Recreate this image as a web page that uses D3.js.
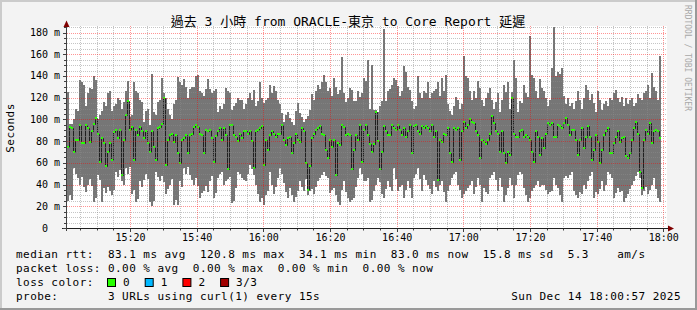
<!DOCTYPE html>
<html><head><meta charset="utf-8">
<script src="https://cdn.jsdelivr.net/npm/d3@7"></script>
<style>body{margin:0;background:#f3f3f3;} svg{display:block;}</style>
</head><body><svg id="c" width="697" height="310"></svg>
<script>
const titleText = "過去 3 小時 from ORACLE-東京 to Core Report 延遲";
const startTime = "2025-12-14T15:00:57";
const endTime = "2025-12-14T18:00:57";
const stepSeconds = 36;

const smokeMin = [25,30,26,55,50,46,40,47,38,33,40,45,39,24,28,49,44,24,37,32,38,34,30,35,52,47,53,43,40,55,50,56,31,35,24,27,43,38,44,50,45,24,20,25,52,47,43,48,42,31,36,40,45,21,26,21,43,38,55,50,56,49,44,40,46,39,28,32,34,39,33,43,48,28,32,
46,50,52,40,43,45,47,23,25,37,52,50,46,44,43,50,58,54,49,40,31,24,28,21,30,34,52,40,31,38,46,55,50,41,33,28,37,30,24,29,34,43,38,34,45,30,34,36,31,38,43,46,49,52,48,46,32,35,37,30,24,21,35,43,33,28,24,26,28,38,46,55,50,43,43,
46,24,26,34,40,46,42,31,28,36,43,38,34,55,45,34,38,40,28,35,43,37,28,46,50,55,45,34,49,44,40,36,31,43,38,34,40,43,33,24,34,40,46,50,52,40,35,28,31,34,37,40,43,31,38,46,40,24,37,33,31,46,49,52,44,34,46,38,24,30,37,46,40,28,40,
49,52,50,37,30,24,28,34,37,40,43,38,40,40,35,31,33,34,46,40,37,30,24,46,48,46,49,52,34,30,28,33,31,40,36,43,48,52,28,33,31,36,43,34,40,52,50,46,28,32,37,33,34,24,28,31,36,40,43,48,52,46,30,34,38,31,35,40,46,36,28,24];
const smokeMax = [125,96,96,100,110,108,136,134,132,112,124,129,128,140,136,100,104,108,116,112,124,126,108,112,114,120,118,110,116,126,135,102,104,134,126,124,118,116,98,108,110,95,142,107,104,116,118,138,124,120,110,104,100,114,118,139,134,132,137,130,120,128,130,130,140,141,126,124,122,128,137,128,124,126,128,
107,112,110,114,129,126,124,109,112,115,120,118,118,110,114,120,124,118,127,112,117,134,120,115,118,120,132,124,131,126,118,114,106,98,104,107,101,98,95,108,115,106,102,98,100,103,109,123,118,126,132,128,134,141,134,126,129,122,138,130,123,127,157,124,116,120,129,127,117,117,126,121,124,138,135,
155,110,150,109,109,107,112,117,183,117,126,128,132,138,136,131,122,126,149,144,130,127,117,110,112,140,124,120,126,124,134,120,124,126,128,134,122,138,126,141,114,108,104,112,121,118,110,114,158,140,138,126,118,126,120,135,129,118,112,120,124,129,118,110,116,124,107,118,132,125,134,110,125,155,138,
107,117,115,132,124,121,177,141,138,126,120,137,129,126,120,112,118,147,185,140,144,142,147,122,114,120,112,115,110,117,126,118,110,120,132,127,118,123,115,107,126,118,109,114,117,112,120,118,124,127,120,116,121,112,120,114,118,120,112,115,123,120,118,124,126,132,120,143,130,126,118,158];
const medianRtt = [75,93,92,70,81,81,95,78,78,95,92,79,89,96,101,87,61,83,78,57,70,78,63,88,90,83,90,49,81,104,117,90,93,63,90,86,93,89,83,89,78,70,89,75,63,92,93,96,120,58,81,86,87,79,86,69,60,81,83,86,69,86,87,93,95,93,87,86,69,90,89,90,83,61,85,
89,92,81,92,86,54,95,95,86,84,80,87,83,89,89,87,89,80,55,89,90,92,94,58,81,72,86,89,87,84,87,87,95,81,76,83,84,69,78,87,81,79,92,89,60,35,57,83,87,90,92,94,87,86,72,64,81,75,81,49,78,76,95,93,86,87,86,54,72,86,81,95,61,90,95,
86,77,70,77,107,80,54,70,94,89,86,86,95,92,90,95,90,86,92,84,89,95,69,94,95,89,87,94,92,94,92,89,95,84,89,44,81,79,87,86,92,69,61,92,90,92,63,89,98,92,95,100,98,97,89,86,64,81,79,77,81,87,103,97,89,87,70,89,69,60,70,67,120,87,84,
84,89,90,84,86,84,81,70,61,89,84,67,83,74,87,97,95,97,84,84,95,94,92,97,101,95,86,90,90,81,67,81,92,74,84,94,84,63,72,86,79,60,72,86,89,92,69,69,78,84,89,79,83,84,66,64,69,81,92,98,87,52,37,81,90,87,97,78,89,90,89,83];

const yTickValues = [0,20,40,60,80,100,120,140,160,180];
const yTickLabels = ["0  ","20 m","40 m","60 m","80 m","100 m","120 m","140 m","160 m","180 m"];
const xTickTimes = ["15:20","15:40","16:00","16:20","16:40","17:00","17:20","17:40","18:00"];
const legendLine1 = "median rtt:  83.1 ms avg  120.8 ms max  34.1 ms min  83.0 ms now  15.8 ms sd  5.3    am/s";
const legendLine2 = "packet loss: 0.00 % avg  0.00 % max  0.00 % min  0.00 % now";
const legendLine3 = "loss color:";
const lossLabels = ["0","1","2","3/3"];
const lossColors = ["#26ff00","#00b8ff","#ff0000","#a10000"];
const probeLine = "probe:       3 URLs using curl(1) every 15s";
const dateText = "Sun Dec 14 18:00:57 2025";
const watermark = "RRDTOOL / TOBI OETIKER";

const svg = d3.select("#c");
const W = 697, H = 310;
const mono = "'DejaVu Sans Mono','Noto Sans CJK TC',monospace";
const nb = s => s.replace(/ /g, "\u00A0");
const parse = d3.timeParse("%Y-%m-%dT%H:%M:%S");
const t0 = parse(startTime), t1 = parse(endTime);
const x = d3.scaleTime().domain([t0, t1]).range([67, 667]);
const y = d3.scaleLinear().domain([0, 186]).range([228, 26]);
const px = v => Math.floor(v + 1e-6);
const py = v => Math.round(v);

svg.append("rect").attr("width", W).attr("height", H).attr("fill", "#f3f3f3");
svg.append("rect").attr("x",0).attr("y",0).attr("width",W).attr("height",2).attr("fill","#cbcbcb");
svg.append("rect").attr("x",0).attr("y",0).attr("width",2).attr("height",H).attr("fill","#cbcbcb");
svg.append("rect").attr("x",0).attr("y",H-2).attr("width",W).attr("height",2).attr("fill","#999");
svg.append("rect").attr("x",W-2).attr("y",0).attr("width",2).attr("height",H).attr("fill","#999");

svg.append("rect").attr("x", x.range()[0]).attr("y", y.range()[1])
  .attr("width", x.range()[1]-x.range()[0]).attr("height", y.range()[0]-y.range()[1]).attr("fill", "#fff");

const data = medianRtt.map((m, i) => ({
  t: new Date(t0.getTime() + i*stepSeconds*1000),
  t2: new Date(t0.getTime() + (i+1)*stepSeconds*1000),
  lo: smokeMin[i], hi: smokeMax[i], med: m
}));

svg.append("g").selectAll("rect").data(data).join("rect")
  .attr("x", d => x(d.t)).attr("width", d => x(d.t2)-x(d.t))
  .attr("y", d => y(d.hi)).attr("height", d => y(d.lo)-y(d.hi))
  .attr("fill", "#767676").attr("shape-rendering","crispEdges");

const pts = data.map(d => [x(d.t)+0.5, py(y(d.med))+0.5]);
pts.push([x(data[data.length-1].t2), py(y(data[data.length-1].med))+0.5]);
svg.append("path").attr("d", d3.line().curve(d3.curveStepAfter)(pts))
  .attr("fill","none").attr("stroke","#202020").attr("stroke-width",1);

svg.append("g").selectAll("rect").data(data).join("rect")
  .attr("x", d => x(d.t)).attr("width", d => x(d.t2)-x(d.t))
  .attr("y", d => py(y(d.med))-1).attr("height", 2)
  .attr("fill", lossColors[0]).attr("shape-rendering","crispEdges");

// grid dots as 1x1 rects (single path of filled squares)
const minorY = d3.range(5, 186, 5).filter(v => v % 20 !== 0);
const majorY = d3.range(20, 186, 20);
const minorX = d3.timeMinute.every(5).range(t0, t1).filter(d => d.getMinutes() % 20 !== 0);
const majorX = d3.timeMinute.every(20).range(t0, t1);
const gridMinor = "rgba(140,140,140,0.5)", gridMajor = "rgba(255,0,0,0.42)";
const [cx0, cx1] = x.range(), cyTop = y.range()[1], cyBot = y.range()[0];
function hDots(vals) {
  let s = "";
  vals.forEach(v => { const yy = py(y(v)); for (let k = cx0; k < cx1; k += 2) s += `M${k},${yy}h1v1h-1Z`; });
  return s;
}
function vDots(vals) {
  let s = "";
  vals.forEach(v => { const xx = px(x(v)); for (let k = cyTop; k < cyBot; k += 2) s += `M${xx},${k}h1v1h-1Z`; });
  return s;
}
const gg = svg.append("g").attr("shape-rendering","crispEdges");
gg.append("path").attr("d", hDots(minorY)).attr("fill", gridMinor);
gg.append("path").attr("d", vDots(minorX)).attr("fill", gridMinor);
gg.append("path").attr("d", hDots(majorY)).attr("fill", gridMajor);
gg.append("path").attr("d", vDots(majorX)).attr("fill", gridMajor);

const ax = svg.append("g");
ax.append("line").attr("x1",66.5).attr("x2",66.5).attr("y1",231).attr("y2",24).attr("stroke","#404040");
ax.append("line").attr("x1",62).attr("x2",669).attr("y1",228.5).attr("y2",228.5).attr("stroke","#202020");
ax.selectAll("line.yt").data(yTickValues.concat(minorY)).join("line").attr("class","yt")
  .attr("x1", d => d%20===0 ? 63 : 64).attr("x2", 67).attr("y1", d=>py(y(d))+0.5).attr("y2", d=>py(y(d))+0.5)
  .attr("stroke","#404040");
ax.selectAll("line.xt").data(majorX.concat(minorX)).join("line").attr("class","xt")
  .attr("x1", d=>px(x(d))+0.5).attr("x2", d=>px(x(d))+0.5)
  .attr("y1", 229).attr("y2", d => d.getMinutes()%20===0 ? 232 : 230.5).attr("stroke","#404040");
svg.append("path").attr("d","M63.5,27 L66.5,20.5 L69.5,27 Z").attr("fill","#800000");
svg.append("path").attr("d","M668,225.5 L674,228.5 L668,231.5 Z").attr("fill","#800000");

svg.append("g").selectAll("text").data(yTickValues).join("text")
  .attr("x", (d,i) => 60 - yTickLabels[i].length*6.02).attr("y", d => y(d)+3.5)
  .attr("font-family", mono).attr("font-size", 10).attr("fill","#000")
  .text((d,i) => nb(yTickLabels[i]));
const fmt = d3.timeFormat("%H:%M");
svg.append("g").selectAll("text").data(majorX.filter(d => xTickTimes.includes(fmt(d)))).join("text")
  .attr("x", d => x(d)).attr("y", 241).attr("text-anchor","middle")
  .attr("font-family", mono).attr("font-size", 10).attr("fill","#000")
  .text(d => fmt(d));

svg.append("text").attr("x", 348).attr("y", 25.5).attr("text-anchor","middle")
  .attr("font-family", mono).attr("font-size", 13).attr("fill","#000").text(titleText);

svg.append("text").attr("transform","translate(14,128) rotate(-90)").attr("text-anchor","middle")
  .attr("font-family", mono).attr("font-size", 11).style("letter-spacing","0.45px").attr("fill","#000").text("Seconds");

svg.append("text").attr("transform","translate(685,5) rotate(90)")
  .attr("font-family", mono).attr("font-size", 8).attr("fill","#a8a8a8").text(watermark);

const lg = svg.append("g").attr("font-family", mono).attr("font-size", 11).attr("fill","#000")
  .style("letter-spacing","0.45px");
lg.append("text").attr("x",16).attr("y",258).text(nb(legendLine1));
lg.append("text").attr("x",16).attr("y",272).text(nb(legendLine2));
lg.append("text").attr("x",16).attr("y",286).text(nb(legendLine3));
lg.append("text").attr("x",16).attr("y",300).text(nb(probeLine));
lg.append("text").attr("x",681).attr("y",300).attr("text-anchor","end").text(nb(dateText));
const boxes = lg.selectAll("g.lb").data(lossLabels).join("g").attr("class","lb");
boxes.append("rect").attr("x",(d,i)=>107.5+i*37.7).attr("y",278.5).attr("width",8).attr("height",8)
  .attr("fill",(d,i)=>lossColors[i]).attr("stroke","#000").attr("stroke-width",1);
boxes.append("text").attr("x",(d,i)=>123+i*37.7).attr("y",286).text(d=>d);
</script></body></html>
